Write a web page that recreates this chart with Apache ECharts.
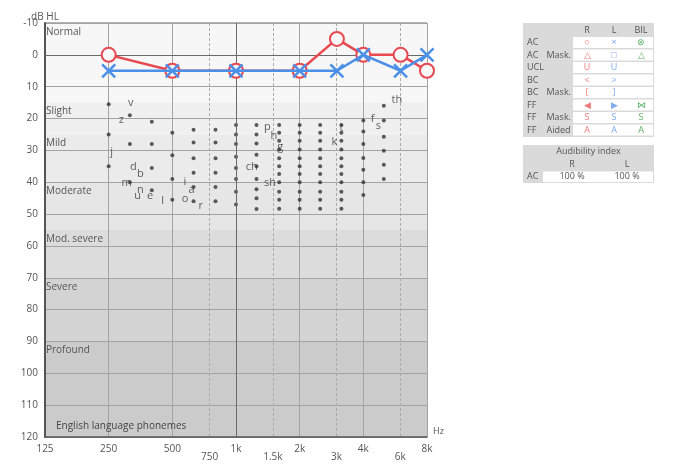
<!DOCTYPE html>
<html>
<head>
<meta charset="utf-8">
<script src="https://cdn.jsdelivr.net/npm/echarts@6/dist/echarts.min.js"></script>
<style>
html,body{margin:0;padding:0;background:#fff;}
#chart{width:673px;height:470px;}
</style>
</head>
<body>
<div id="chart"></div>
<script>
// audiogram values
var octaveLabels=['125','250','500','1k','2k','4k','8k'];
var halfFreqs=[750,1500,3000,6000];
var halfLabels=['750','1.5k','3k','6k'];
var testFreqs=[250,500,1000,2000,3000,4000,6000,8000];
var rightAC=[0,5,5,5,-5,0,0,5];
var leftAC=[5,5,5,5,5,0,5,0];

var bandNames=['Normal','Slight','Mild','Moderate','Mod. severe','Severe','Profound'];
var bandEdges=[-10,15,25,40,55,70,90,120];
var bandColors=['#f7f7f7','#f0f0f0','#ebebeb','#e6e6e6','#dcdcdc','#d3d3d3','#cbcbcb'];

// english phonemes (count the dots)
var dotFreqs=[250,315,400,500,630,800,1000,1250,1600,2000,2500,3150,4000,5000];
var dotLevels=[
  [15.5,25,35],
  [19,28,40],
  [21,28,35.5,42.5],
  [24.5,31.5,39,45.5],
  [23.5,27.5,32.5,37,41.5,46],
  [23.5,27.5,32.5,37,41.5,46],
  [22,25,28,32,35.5,39,43,47],
  [22,25,27.8,31.4,35,39,42.2,45,48.4],
  [22,24.5,27,29.7,32.5,35,37.4,40,43,45.5,48.3],
  [22,24.5,27,29.7,32.5,35,37.4,40,43,45.5,48.3],
  [22,24.5,27,29.7,32.5,35,37.4,40,43,45.5,48.3],
  [22,24.5,27,29.7,32.5,35,37.4,40,43,45.5,48.3],
  [20.6,24.1,28,32.4,36.1,40,44],
  [16,20.6,25.7,30.1,34.5,39]
];
var phonemes=['v','z','j','d','b','m','n','u','e','l','i','a','o','r','ch','p','h','g','sh','k','t','f','s','th'];
var phonemeFreqs=[318,287,258,327,353,304,353,343,392,450,574,617,574,681,1186,1406,1512,1620,1448,2917,3150,4428,4707,5768];
var phonemeLevels=[15,20.3,30.5,35.1,37.3,40.3,42.4,44.2,44.2,45.8,40,42.4,45.3,47.3,35.1,22.5,25.3,28.8,40.1,27.2,23,20.1,22.3,14.1];

// legend table texts
var tblRows=[['AC',''],['AC','Mask.'],['UCL',''],['BC',''],['BC','Mask.'],['FF',''],['FF','Mask.'],['FF','Aided']];
var tblR=['○','△','U','<','[','◀','S','A'];
var tblL=['×','□','U','>',']','▶','S','A'];
var tblB=['⊗','△','','','','⋈','S','A'];
var audR='100 %', audL='100 %';

var red='#e8484f', blue='#4a8fe8';
var fontFam='"Open Sans", sans-serif';

function lx(f){ return Math.log(f/125)/Math.LN2; }

var dotData=[];
for(var i=0;i<dotFreqs.length;i++){
  for(var j=0;j<dotLevels[i].length;j++){
    dotData.push([lx(dotFreqs[i]),dotLevels[i][j]]);
  }
}
var letterData=[];
for(var i=0;i<phonemes.length;i++){
  letterData.push({name:phonemes[i],value:[lx(phonemeFreqs[i]),phonemeLevels[i]]});
}
var rData=[],lData=[];
for(var i=0;i<testFreqs.length;i++){
  rData.push([lx(testFreqs[i]),rightAC[i]]);
  lData.push([lx(testFreqs[i]),leftAC[i]]);
}
var bandData=[];
for(var i=0;i<bandNames.length;i++){
  bandData.push([{yAxis:bandEdges[i],name:bandNames[i],itemStyle:{color:bandColors[i]}},{yAxis:bandEdges[i+1]}]);
}
var darkLines=[{yAxis:0},{xAxis:3}];

// table graphic
var g=[];
function txt(s,x,y,col,align){
  g.push({type:'text',silent:true,style:{text:s,x:x,y:y,fill:col||'#555',font:'9px '+fontFam,align:align||'center',verticalAlign:'middle'}});
}
g.push({type:'rect',silent:true,shape:{x:523,y:23,width:131,height:114},style:{fill:'#dadada'}});
txt('R',587,30);txt('L',614,30);txt('BIL',641,30);
for(var i=0;i<tblRows.length;i++){
  var rowTop=37+12.5*i;
  g.push({type:'rect',silent:true,shape:{x:573,y:rowTop,width:80,height:11},style:{fill:'#fff'}});
  txt(tblRows[i][0],527,rowTop+5.5,'#555','left');
  if(tblRows[i][1]) txt(tblRows[i][1],546.5,rowTop+5.5,'#555','left');
  txt(tblR[i],587,rowTop+5.5,'#f07a7a');
  txt(tblL[i],614,rowTop+5.5,'#7eaaf0');
  if(tblB[i]) txt(tblB[i],641,rowTop+5.5,'#5cb366');
}
g.push({type:'rect',silent:true,shape:{x:523,y:145,width:131,height:38},style:{fill:'#dadada'}});
txt('Audibility index',588.5,151.5);
txt('R',572,164);txt('L',627,164);
g.push({type:'rect',silent:true,shape:{x:543,y:171.5,width:110,height:10.5},style:{fill:'#fff'}});
txt('AC',527,176.5,'#555','left');
txt(audR,572,176.5);txt(audL,627,176.5);

// half-octave grid starts at the 750 Hz line
var plotL=45,plotW=382;
var halfLeft=plotL+plotW*lx(750)/6;

var myChart=echarts.init(document.getElementById('chart'));
var option={
  animation:false,
  textStyle:{fontFamily:fontFam},
  title:{text:'English language phonemes',left:56,top:421,padding:0,textStyle:{fontSize:10,fontWeight:'normal',color:'#444',fontFamily:fontFam}},
  grid:[
    {left:plotL,top:23,width:plotW,height:414,show:true,borderColor:'#666',borderWidth:1,backgroundColor:'transparent'},
    {left:halfLeft,top:23,width:plotL+plotW-halfLeft,height:414}
  ],
  xAxis:[{
    type:'value',min:0,max:6,interval:1,z:2,
    name:'Hz',nameLocation:'end',nameGap:6,
    nameTextStyle:{fontSize:9,color:'#555',align:'left',verticalAlign:'bottom',padding:[0,0,1,0]},
    axisLine:{show:true,onZero:false,lineStyle:{color:'#555',width:1.5}},
    axisTick:{show:false},
    axisLabel:{margin:7,fontSize:10,color:'#555',formatter:function(v){return octaveLabels[Math.round(v)]||'';}},
    splitLine:{show:true,lineStyle:{color:'#a3a3a3',width:1}}
  },{
    gridIndex:1,type:'value',min:lx(750),max:6,interval:1,z:2,
    axisLine:{show:false},axisTick:{show:false},
    splitLine:{show:true,showMaxLine:false,lineStyle:{color:'#aaa',width:1,type:[3,2]}},
    axisLabel:{margin:15,fontSize:10,color:'#555',showMaxLabel:false,formatter:function(v){
      for(var k=0;k<halfFreqs.length;k++){ if(Math.abs(lx(halfFreqs[k])-v)<0.01) return halfLabels[k]; }
      return '';
    }}
  }],
  yAxis:[{
    type:'value',min:-10,max:120,interval:10,inverse:true,z:2,
    name:'dB HL',nameLocation:'start',nameGap:6,nameMoveOverlap:false,
    nameTextStyle:{fontSize:10,color:'#555',align:'center',verticalAlign:'middle'},
    axisLine:{show:true,onZero:false,lineStyle:{color:'#555',width:2}},
    axisTick:{show:false},
    axisLabel:{margin:7,fontSize:10,color:'#555'},
    splitLine:{show:true,lineStyle:{color:'#a3a3a3',width:1}}
  },{
    gridIndex:1,type:'value',min:-10,max:120,inverse:true,show:false
  }],
  graphic:g,
  series:[{
    type:'line',data:[],z:0,silent:true,
    markArea:{silent:true,z:0,data:bandData,label:{show:true,position:'insideTopLeft',distance:1,offset:[0,3],color:'#555',fontSize:10,fontFamily:fontFam}}
  },{
    type:'line',data:[],z:2,silent:true,
    markLine:{silent:true,symbol:'none',label:{show:false},lineStyle:{color:'#6a6a6a',type:'solid',width:1},data:darkLines}
  },{
    type:'scatter',data:dotData,symbolSize:4,itemStyle:{color:'#333'},silent:true,z:3
  },{
    type:'scatter',data:letterData,symbolSize:1,itemStyle:{color:'transparent'},silent:true,z:3,
    label:{show:true,position:'inside',formatter:'{b}',color:'#3a3a3a',fontSize:11,fontFamily:fontFam}
  },{
    name:'R',type:'line',data:rData,z:5,
    symbol:'circle',symbolSize:14,
    lineStyle:{color:red,width:2.5},
    itemStyle:{color:'#f7f7f7',borderColor:red,borderWidth:2}
  },{
    name:'L',type:'line',data:lData,z:6,
    symbol:'path://M0,0L10,10M10,0L0,10',symbolSize:13,
    lineStyle:{color:blue,width:2.5},
    itemStyle:{color:'rgba(255,255,255,0)',borderColor:blue,borderWidth:2.5}
  }]
};
myChart.setOption(option);
</script>
</body>
</html>
